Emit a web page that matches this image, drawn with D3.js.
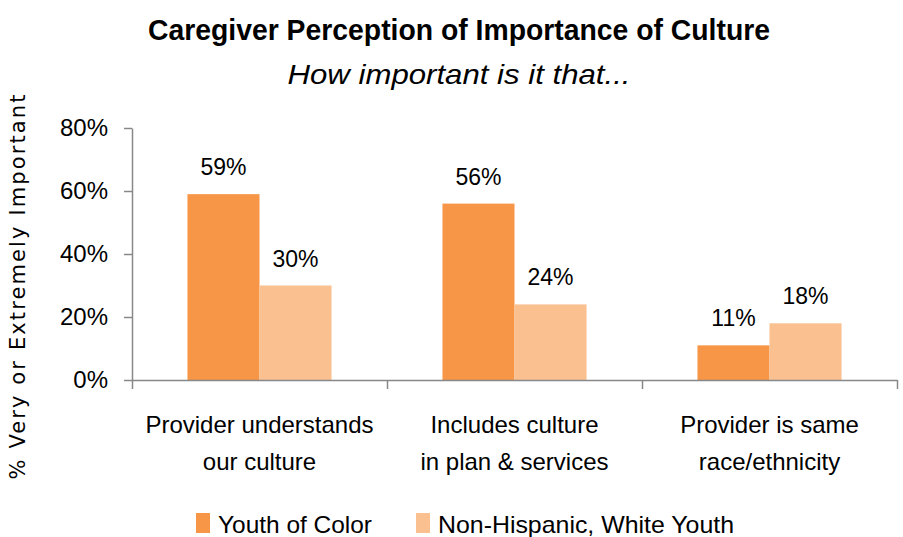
<!DOCTYPE html>
<html>
<head>
<meta charset="utf-8">
<script src="https://cdn.jsdelivr.net/npm/d3@7"></script>
<style>
  body { margin: 0; background: #fff; }
  svg { font-family: "Liberation Sans Narrow", "Liberation Sans", Arial, sans-serif; }
</style>
</head>
<body>
<svg id="chart" width="903" height="537"></svg>
<script>
  const categories = [
    ["Provider understands", "our culture"],
    ["Includes culture", "in plan & services"],
    ["Provider is same", "race/ethnicity"]
  ];
  const seriesNames = ["Youth of Color", "Non-Hispanic, White Youth"];
  const youthOfColor = [0.59, 0.56, 0.11];
  const whiteYouth = [0.30, 0.24, 0.18];
  const yTicks = [0, 0.2, 0.4, 0.6, 0.8];
  const colors = ["#F79646", "#FAC090"];

  const svg = d3.select("#chart");
  const margin = { top: 128, right: 6, bottom: 157, left: 132 };
  const width = 903 - margin.left - margin.right;
  const height = 537 - margin.top - margin.bottom;

  const g = svg.append("g")
    .attr("transform", `translate(${margin.left},${margin.top})`);

  const x0 = d3.scaleBand()
    .domain(d3.range(categories.length))
    .range([0, width])
    .padding(0);

  const x1 = d3.scaleBand()
    .domain(seriesNames)
    .range([0, x0.bandwidth()])
    .paddingInner(0)
    .paddingOuter(0.77);

  const y = d3.scaleLinear()
    .domain([0, 0.8])
    .range([height, 0]);

  // y axis
  const yAxis = g.append("g")
    .call(d3.axisLeft(y).tickValues(yTicks).tickSize(8).tickSizeOuter(0).tickPadding(16)
      .tickFormat(d3.format(".0%")));
  yAxis.select(".domain").attr("stroke", "#888").attr("stroke-width", 1.5);
  yAxis.selectAll(".tick line").attr("stroke", "#888").attr("stroke-width", 1.5);
  yAxis.selectAll("text")
    .attr("font-size", 24)
    .attr("fill", "#000")
    .attr("font-family", "Liberation Sans Narrow, Arial, sans-serif");

  // bars
  const data = categories.map((c, i) => ({ i, values: [youthOfColor[i], whiteYouth[i]] }));

  const groups = g.selectAll(".grp")
    .data(data)
    .enter().append("g")
      .attr("class", "grp")
      .attr("transform", d => `translate(${x0(d.i)},0)`);

  groups.selectAll("rect")
    .data(d => d.values.map((v, k) => ({ key: seriesNames[k], v, k })))
    .enter().append("rect")
      .attr("x", d => x1(d.key))
      .attr("y", d => y(d.v))
      .attr("width", x1.bandwidth())
      .attr("height", d => height - y(d.v))
      .attr("fill", d => colors[d.k]);

  groups.selectAll(".lbl")
    .data(d => d.values.map((v, k) => ({ key: seriesNames[k], v, k })))
    .enter().append("text")
      .attr("class", "lbl")
      .attr("x", d => x1(d.key) + x1.bandwidth() / 2)
      .attr("y", d => y(d.v) - 19)
      .attr("text-anchor", "middle")
      .attr("font-size", 23)
      .text(d => d3.format(".0%")(d.v));

  // x axis
  const xb = d3.scaleLinear().domain([0, categories.length]).range([0, width]);
  const xAxis = g.append("g")
    .attr("transform", `translate(0,${height})`)
    .call(d3.axisBottom(xb).tickValues(d3.range(categories.length + 1)).tickSize(9).tickSizeOuter(0).tickFormat(""));
  xAxis.select(".domain").attr("stroke", "#888").attr("stroke-width", 1.5);
  xAxis.selectAll(".tick line").attr("stroke", "#888").attr("stroke-width", 1.5);

  // category labels
  const catText = g.selectAll(".cat")
    .data(categories)
    .enter().append("text")
      .attr("class", "cat")
      .attr("text-anchor", "middle")
      .attr("font-size", 24)
      .attr("transform", (d, i) => `translate(${x0(i) + x0.bandwidth() / 2},${height + 53})`);
  catText.selectAll("tspan")
    .data(d => d)
    .enter().append("tspan")
      .attr("x", 0)
      .attr("dy", (d, i) => i === 0 ? 0 : 37)
      .text(d => d);

  // titles
  svg.append("text")
    .attr("x", 459).attr("y", 40)
    .attr("text-anchor", "middle")
    .attr("font-size", 29).attr("font-weight", "bold")
    .attr("textLength", 622).attr("lengthAdjust", "spacingAndGlyphs")
    .text("Caregiver Perception of Importance of Culture");

  svg.append("text")
    .attr("x", 459).attr("y", 84)
    .attr("text-anchor", "middle")
    .attr("font-size", 28).attr("font-style", "italic")
    .attr("textLength", 343).attr("lengthAdjust", "spacingAndGlyphs")
    .text("How important is it that...");

  // y axis title
  svg.append("text")
    .attr("transform", "translate(25,287) rotate(-90)")
    .attr("text-anchor", "middle")
    .attr("font-family", "DejaVu Sans, sans-serif")
    .attr("font-size", 21)
    .attr("textLength", 385).attr("lengthAdjust", "spacing")
    .text("% Very or Extremely Important");

  // legend
  const legend = svg.append("g").attr("transform", "translate(196,513)");
  const legX = [0, 220];
  const legLen = [154, 296];
  seriesNames.forEach((name, k) => {
    const lg = legend.append("g").attr("transform", `translate(${legX[k]},0)`);
    lg.append("rect").attr("width", 14).attr("height", 20).attr("fill", colors[k]);
    lg.append("text").attr("x", 22).attr("y", 20).attr("font-size", 24)
      .attr("textLength", legLen[k]).attr("lengthAdjust", "spacingAndGlyphs")
      .text(name);
  });
</script>
</body>
</html>
